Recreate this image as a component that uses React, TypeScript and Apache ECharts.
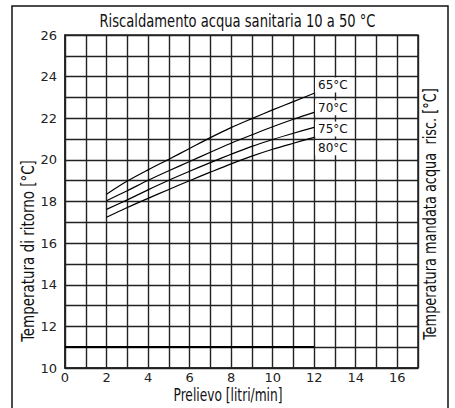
import React, { useEffect, useRef } from "react";
import * as echarts from "echarts";

const xFlow = [2, 3, 4, 5, 6, 7, 8, 9, 10, 11, 12];
const t65 = [18.35, 18.98, 19.52, 20.03, 20.55, 21.07, 21.55, 21.98, 22.4, 22.8, 23.2];
const t70 = [18.04, 18.52, 19.02, 19.48, 19.92, 20.37, 20.8, 21.2, 21.59, 21.95, 22.28];
const t75 = [17.62, 18.08, 18.56, 19.02, 19.45, 19.87, 20.27, 20.65, 20.98, 21.28, 21.56];
const t80 = [17.24, 17.71, 18.15, 18.58, 19.0, 19.41, 19.81, 20.18, 20.51, 20.8, 21.08];
const seriesNames = ["65°C", "70°C", "75°C", "80°C"];
const seriesValues = [t65, t70, t75, t80];
const labelX = 12.9;
const labelY = [23.6, 22.5, 21.48, 20.58];
const xTickLabels = ["0", "2", "4", "6", "8", "10", "12", "14", "16"];
const yTickLabels = ["10", "12", "14", "16", "18", "20", "22", "24", "26"];

const title = "Riscaldamento acqua sanitaria 10 a 50 °C";
const xName = "Prelievo [litri/min]";
const yName = "Temperatura di ritorno [°C]";
const y2Name = "Temperatura mandata acqua  risc. [°C]";

const NARROW = "'Liberation Sans Narrow', 'DejaVu Sans Condensed', sans-serif";
const TICKFONT = "'DejaVu Sans', sans-serif";

export default function App() {
  const ref = useRef<HTMLDivElement>(null);
  useEffect(() => {
    if (!ref.current) return;
    const chart = echarts.init(ref.current, null, { renderer: "svg" });
    const gridColor = "#222";
    const series: any[] = seriesValues.map((vals, i) => ({
      type: "line",
      name: seriesNames[i],
      data: xFlow.map((x, j) => [x, vals[j]]),
      showSymbol: false,
      smooth: 0.3,
      lineStyle: { color: "#000", width: 1.2 },
      z: 3,
      markPoint: {
        symbol: "rect",
        symbolSize: 0,
        silent: true,
        data: [
          {
            coord: [labelX, labelY[i]],
            label: {
              show: true,
              formatter: seriesNames[i],
              color: "#111",
              fontFamily: TICKFONT,
              fontSize: 12,
              backgroundColor: "#fff",
              padding: [2, 3, 1, 3],
              position: "inside",
            },
          },
        ],
      },
    }));
    series[0].markLine = {
      symbol: "none",
      silent: true,
      label: { show: false },
      lineStyle: { color: "#000", width: 2, type: "solid" },
      data: [[{ coord: [0, 11] }, { coord: [12, 11] }]],
    };
    const txt = (text: string, x: number, y: number, size: number, sx: number, rot = 0) => ({
      type: "text",
      x,
      y,
      rotation: rot,
      scaleX: sx,
      style: {
        text,
        fontFamily: NARROW,
        fontSize: size,
        fill: "#111",
        textAlign: "center",
        textVerticalAlign: "middle",
      },
    });
    chart.setOption({
      animation: false,
      backgroundColor: "#fff",
      grid: {
        left: 65,
        right: 37,
        top: 35,
        bottom: 40,
        show: true,
        borderColor: gridColor,
        borderWidth: 1.5,
      },
      xAxis: {
        type: "value",
        min: 0,
        max: 17,
        interval: 1,
        axisLine: { show: true, lineStyle: { color: gridColor, width: 1.5 } },
        axisTick: { show: false },
        splitLine: { show: true, lineStyle: { color: gridColor, width: 1.4 } },
        axisLabel: {
          margin: 3,
          fontFamily: TICKFONT,
          fontSize: 13,
          lineHeight: 13,
          color: "#222",
          formatter: (v: number) => (xTickLabels.includes(String(v)) ? String(v) : ""),
        },
      },
      yAxis: {
        type: "value",
        min: 10,
        max: 26,
        interval: 1,
        axisLine: { show: true, lineStyle: { color: gridColor, width: 1.5 } },
        axisTick: { show: false },
        splitLine: { show: true, lineStyle: { color: gridColor, width: 1.4 } },
        axisLabel: {
          margin: 8,
          fontFamily: TICKFONT,
          fontSize: 13,
          color: "#222",
          formatter: (v: number) => (yTickLabels.includes(String(v)) ? String(v) : ""),
        },
      },
      graphic: [
        {
          type: "rect",
          shape: { x: 12, y: 6, width: 436, height: 420 },
          style: { fill: "none", stroke: "#111", lineWidth: 1.5 },
          silent: true,
        },
        txt(title, 237.5, 21, 18, 0.81),
        txt(xName, 228, 395, 17, 0.8),
        txt(yName, 28.5, 251, 17, 0.88, Math.PI / 2),
        txt(y2Name, 430, 214, 17, 0.845, Math.PI / 2),
      ],
      series,
    });
    return () => chart.dispose();
  }, []);
  return <div ref={ref} style={{ width: 455, height: 408, position: "absolute", left: 0, top: 0 }} />;
}
